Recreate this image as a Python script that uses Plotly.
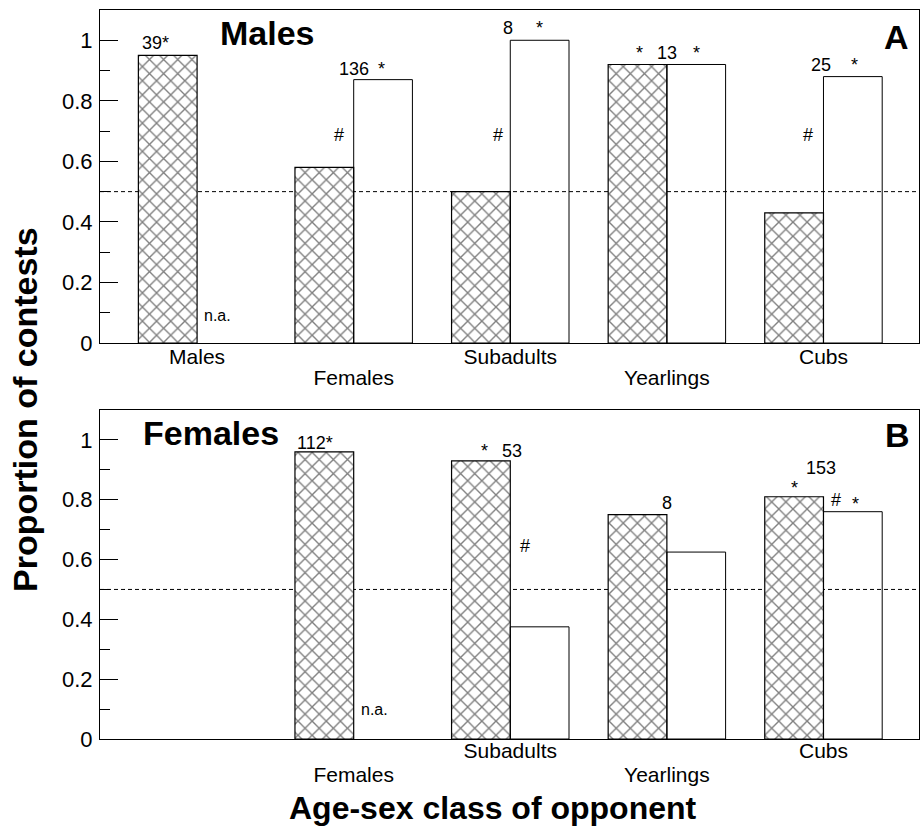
import plotly.graph_objects as go

categories = ["Males", "Females", "Subadults", "Yearlings", "Cubs"]
xpos = [0, 1, 2, 3, 4]

# Panel A (Males)
males_hatched = [0.95, 0.58, 0.50, 0.92, 0.43]
males_open = [None, 0.87, 1.00, 0.92, 0.88]
males_row1_vals = [0, 2, 4]
males_row1_text = ["Males", "Subadults", "Cubs"]
males_row2_vals = [1, 3]
males_row2_text = ["Females", "Yearlings"]

# Panel B (Females)
females_hatched = [None, 0.96, 0.93, 0.75, 0.81]
females_open = [None, None, 0.375, 0.625, 0.76]
females_row1_vals = [2, 4]
females_row1_text = ["Subadults", "Cubs"]
females_row2_vals = [1, 3]
females_row2_text = ["Females", "Yearlings"]

FONT = "Liberation Sans, Arial, Helvetica, sans-serif"
BW = 0.375

fig = go.Figure()


def add_pair(hatched, opened, xa, ya):
    fig.add_trace(go.Bar(
        x=xpos, y=hatched, width=BW, offset=-BW, xaxis=xa, yaxis=ya,
        marker=dict(color="white", line=dict(color="black", width=1.2),
                    pattern=dict(shape="x", size=10, solidity=0.25,
                                 fgcolor="black", bgcolor="white")),
        showlegend=False, hoverinfo="skip"))
    fig.add_trace(go.Bar(
        x=xpos, y=opened, width=BW, offset=0, xaxis=xa, yaxis=ya,
        marker=dict(color="rgba(0,0,0,0)", line=dict(color="black", width=1)),
        showlegend=False, hoverinfo="skip"))


add_pair(males_hatched, males_open, "x", "y")
add_pair(females_hatched, females_open, "x2", "y2")

# invisible carriers so the second-row label axes are drawn
for xa, ya, vals in (("x3", "y", males_row2_vals), ("x4", "y2", females_row2_vals)):
    fig.add_trace(go.Scatter(x=vals, y=[None] * len(vals), xaxis=xa, yaxis=ya,
                             mode="markers", marker=dict(opacity=0),
                             showlegend=False, hoverinfo="skip"))

xrange = [-0.62, 4.61]
yaxis_common = dict(range=[0, 1.1], showline=True, mirror=True, linecolor="black",
                    linewidth=1, ticks="inside", ticklen=18, tickwidth=1,
                    tickcolor="black", tickvals=[0, 0.2, 0.4, 0.6, 0.8, 1],
                    ticktext=["0", "0.2", "0.4", "0.6", "0.8", "1"],
                    minor=dict(tickvals=[0.1, 0.3, 0.5, 0.7, 0.9], ticks="inside",
                               ticklen=10, tickcolor="black", showgrid=False),
                    showgrid=False, zeroline=False, ticklabelstandoff=2,
                    tickfont=dict(family=FONT, size=22, color="black"))
xaxis_common = dict(range=xrange, showline=True, mirror=True, linecolor="black",
                    linewidth=1, showgrid=False, zeroline=False, ticks="",
                    tickfont=dict(family=FONT, size=21, color="black"))
xaxis_row2 = dict(range=xrange, showline=False, showgrid=False, zeroline=False, ticks="",
                  tickfont=dict(family=FONT, size=21, color="black"))

TOP_DOM = [0.5432, 1.0]
BOT_DOM = [0.0, 0.4513]

fig.update_layout(
    width=921, height=830,
    margin=dict(l=100, r=2, t=10, b=91),
    paper_bgcolor="white", plot_bgcolor="white",
    barmode="overlay",
    xaxis=dict(xaxis_common, domain=[0, 1], anchor="y",
               tickvals=males_row1_vals, ticktext=males_row1_text, ticklabelstandoff=-5),
    xaxis3=dict(xaxis_row2, overlaying="x", anchor="y", side="bottom",
                tickvals=males_row2_vals, ticktext=males_row2_text, ticklabelstandoff=20),
    yaxis=dict(yaxis_common, domain=TOP_DOM, anchor="x"),
    xaxis2=dict(xaxis_common, domain=[0, 1], anchor="y2",
                tickvals=females_row1_vals, ticktext=females_row1_text, ticklabelstandoff=-7),
    xaxis4=dict(xaxis_row2, overlaying="x2", anchor="y2", side="bottom",
                tickvals=females_row2_vals, ticktext=females_row2_text, ticklabelstandoff=21),
    yaxis2=dict(yaxis_common, domain=BOT_DOM, anchor="x2"),
)

for xr, yr in (("x", "y"), ("x2", "y2")):
    fig.add_shape(type="line", xref=f"{xr} domain", yref=yr, x0=0, x1=1, y0=0.5, y1=0.5,
                  layer="below", line=dict(color="black", width=1, dash="4px,3px"))

small = dict(family=FONT, size=18, color="black")
big = dict(family=FONT, size=34, color="black")

notes = [
    # panel A
    ("x", "y", 0.45, 1.023, "<b>Males</b>", big),
    ("x", "y", 4.466, 1.01, "<b>A</b>", big),
    ("x", "y", -0.268, 0.99, "39*", small),
    ("x", "y", 0.128, 0.092, "n.a.", dict(small, size=16)),
    ("x", "y", 1.0, 0.904, "136", small),
    ("x", "y", 1.18, 0.904, "*", small),
    ("x", "y", 0.906, 0.686, "#", small),
    ("x", "y", 1.984, 1.04, "8", small),
    ("x", "y", 2.188, 1.04, "*", small),
    ("x", "y", 1.92, 0.686, "#", small),
    ("x", "y", 2.826, 0.957, "*", small),
    ("x", "y", 2.998, 0.957, "13", small),
    ("x", "y", 3.19, 0.957, "*", small),
    ("x", "y", 3.987, 0.917, "25", small),
    ("x", "y", 4.198, 0.917, "*", small),
    ("x", "y", 3.904, 0.686, "#", small),
    # panel B
    ("x2", "y2", 0.089, 1.023, "<b>Females</b>", big),
    ("x2", "y2", 4.472, 1.017, "<b>B</b>", big),
    ("x2", "y2", 0.753, 0.99, "112*", small),
    ("x2", "y2", 1.136, 0.097, "n.a.", dict(small, size=16)),
    ("x2", "y2", 1.837, 0.963, "*", small),
    ("x2", "y2", 2.01, 0.963, "53", small),
    ("x2", "y2", 2.093, 0.645, "#", small),
    ("x2", "y2", 2.998, 0.789, "8", small),
    ("x2", "y2", 3.987, 0.906, "153", small),
    ("x2", "y2", 3.815, 0.839, "*", small),
    ("x2", "y2", 4.077, 0.8, "#", small),
    ("x2", "y2", 4.204, 0.786, "*", small),
]
for xr, yr, x, y, t, f in notes:
    fig.add_annotation(xref=xr, yref=yr, x=x, y=y, text=t, showarrow=False,
                       font=f, xanchor="center", yanchor="middle")

fig.add_annotation(xref="paper", yref="paper", x=(493 - 100) / 819, y=(739 - 808) / 729,
                   text="<b>Age-sex class of opponent</b>", showarrow=False,
                   font=dict(family=FONT, size=32, color="black"),
                   xanchor="center", yanchor="middle")
fig.add_annotation(xref="paper", yref="paper", x=(25 - 100) / 819, y=(739 - 410) / 729,
                   text="<b>Proportion of contests</b>", showarrow=False, textangle=-90,
                   font=dict(family=FONT, size=34, color="black"),
                   xanchor="center", yanchor="middle")

fig.write_html("out.html", config={"displayModeBar": False},
               post_script="document.body.style.margin='0';document.body.style.overflow='hidden';")
